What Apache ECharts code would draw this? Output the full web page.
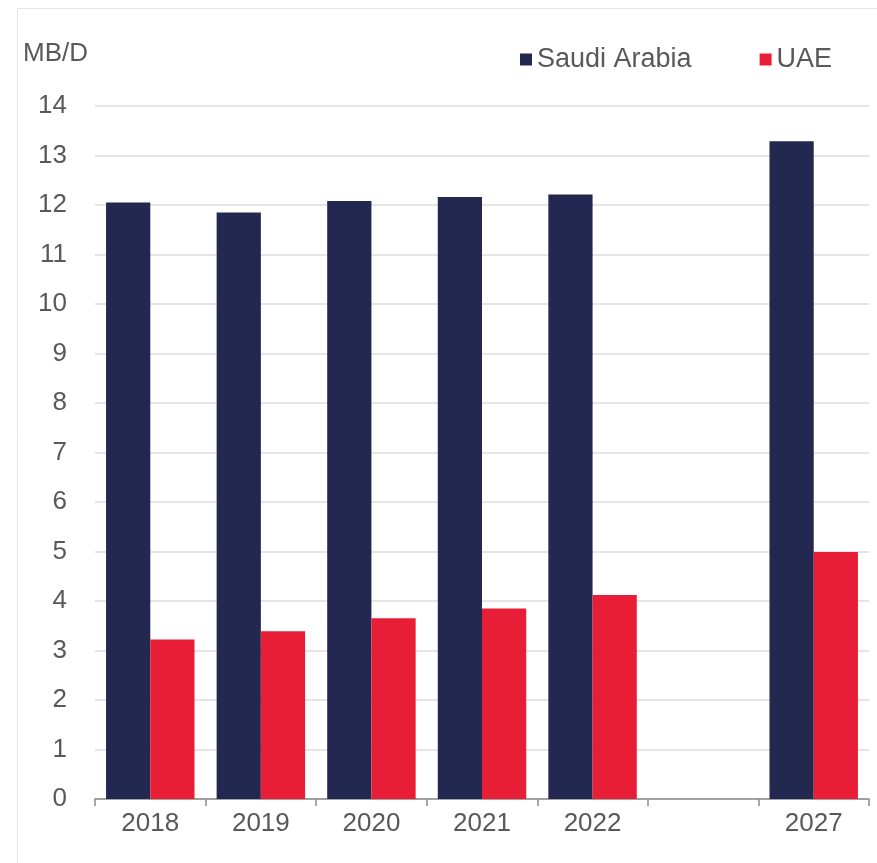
<!DOCTYPE html>
<html>
<head>
<meta charset="utf-8">
<script src="https://cdn.jsdelivr.net/npm/echarts@6/dist/echarts.min.js"></script>
<style>
html,body{margin:0;padding:0;background:#fff;}
#chart{width:877px;height:863px;}
</style>
</head>
<body>
<div id="chart"></div>
<script>
const categories = ['2018', '2019', '2020', '2021', '2022', '', '2027'];
const saudiArabia = [12.05, 11.85, 12.08, 12.16, 12.21, null, 13.29];
const uae = [3.22, 3.39, 3.65, 3.85, 4.12, null, 4.99];
const yTicks = { min: 0, max: 14, interval: 1 };
const unitLabel = 'MB/D';

const FONT = '"Liberation Sans", Arial, sans-serif';
const TXT = '#595959';

const chart = echarts.init(document.getElementById('chart'), null, { renderer: 'canvas' });
chart.setOption({
  backgroundColor: '#ffffff',
  animation: false,
  textStyle: { fontFamily: FONT },
  graphic: [
    {
      type: 'rect',
      shape: { x: 17.5, y: 8.5, width: 1000, height: 1000 },
      style: { fill: 'none', stroke: '#e6e6e6', lineWidth: 1 },
      silent: true
    },
    {
      type: 'text',
      left: 23,
      top: 41,
      style: { text: unitLabel, fill: TXT, font: '26px ' + FONT }
    }
  ],
  legend: {
    left: 520,
    top: 46,
    padding: 0,
    icon: 'rect',
    itemWidth: 12,
    itemHeight: 12,
    itemGap: 68,
    textStyle: { color: TXT, fontSize: 27, fontFamily: FONT },
    data: ['Saudi Arabia', 'UAE']
  },
  grid: { left: 95, right: 8, top: 106, bottom: 64, containLabel: false },
  xAxis: {
    type: 'category',
    data: categories,
    axisLine: { show: true, lineStyle: { color: '#8a8a8a', width: 1.5 } },
    axisTick: { show: true, length: 7, lineStyle: { color: '#8a8a8a', width: 1.5 } },
    axisLabel: { color: TXT, fontSize: 26, fontFamily: FONT, margin: 12 },
    splitLine: { show: false }
  },
  yAxis: {
    type: 'value',
    min: yTicks.min,
    max: yTicks.max,
    interval: yTicks.interval,
    axisLine: { show: false },
    axisTick: { show: false },
    axisLabel: { color: TXT, fontSize: 26, fontFamily: FONT, margin: 28 },
    splitLine: { show: true, lineStyle: { color: '#dddddd', width: 1.5 } }
  },
  series: [
    {
      name: 'Saudi Arabia',
      type: 'bar',
      data: saudiArabia,
      barGap: '0%',
      barCategoryGap: '20%',
      itemStyle: { color: '#222850' }
    },
    {
      name: 'UAE',
      type: 'bar',
      data: uae,
      barGap: '0%',
      barCategoryGap: '20%',
      itemStyle: { color: '#e81e36' }
    }
  ]
});
</script>
</body>
</html>
